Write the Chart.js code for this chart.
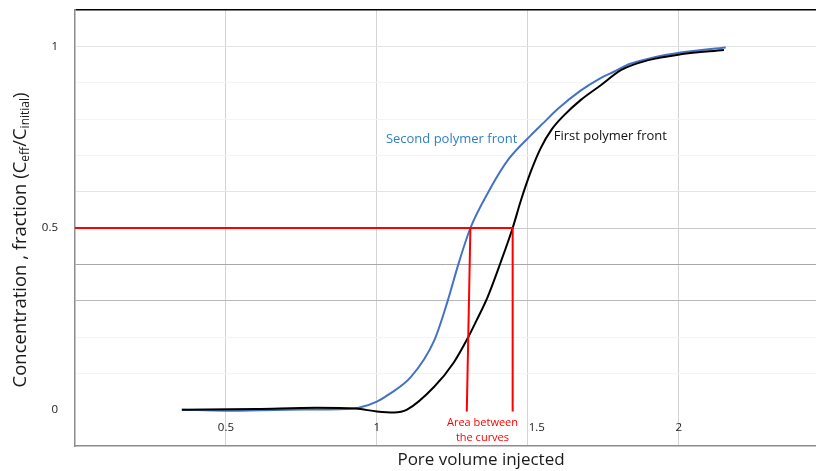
<!DOCTYPE html>
<html>
<head>
<meta charset="utf-8">
<script src="https://cdn.jsdelivr.net/npm/chart.js@4.4.1/dist/chart.umd.min.js"></script>
<style>
  html, body { margin: 0; padding: 0; background: #fff; }
  #wrap { width: 816px; height: 471px; }
</style>
</head>
<body>
<div id="wrap"><canvas id="c" width="816" height="471"></canvas></div>
<script>
// Pore volume injected (x) and concentration fraction (y) for each front
const secondFrontX = [0.354, 0.50, 0.70, 0.90, 0.94, 1.00, 1.036, 1.113, 1.19, 1.235, 1.27, 1.31, 1.37, 1.437, 1.51, 1.553, 1.60, 1.675, 1.74, 1.785, 1.84, 1.92, 2.007, 2.156];
const secondFrontY = [0.0, -0.003, 0.0, 0.002, 0.005, 0.022, 0.04, 0.09, 0.19, 0.30, 0.40, 0.50, 0.60, 0.69, 0.755, 0.79, 0.828, 0.878, 0.912, 0.93, 0.952, 0.97, 0.983, 0.997];

const firstFrontX = [0.354, 0.60, 0.80, 0.93, 1.00, 1.057, 1.10, 1.19, 1.255, 1.30, 1.33, 1.367, 1.41, 1.45, 1.477, 1.51, 1.543, 1.58, 1.62, 1.675, 1.742, 1.81, 1.90, 2.007, 2.15];
const firstFrontY = [0.0, 0.002, 0.005, 0.003, -0.005, -0.008, 0.0, 0.063, 0.13, 0.195, 0.245, 0.31, 0.405, 0.50, 0.575, 0.655, 0.72, 0.772, 0.81, 0.852, 0.893, 0.935, 0.962, 0.978, 0.99];

// Half-concentration guide lines
const halfGuideX = [0, 1.45, 1.45];
const halfGuideY = [0.5, 0.5, -0.005];
const secondDropX = [1.31, 1.298];
const secondDropY = [0.5, -0.005];

// Axis tick labels
const xTickValues = [0.5, 1, 1.5, 2];
const xTickLabels = ['0.5', '1', '1.5', '2'];
const yTickLabels = ['0', '0.5', '1'];

const toPoints = (xs, ys) => xs.map((x, i) => ({ x: x, y: ys[i] }));
const near = (a, b) => Math.abs(a - b) < 1e-6;

const FONT = "'Open Sans', 'DejaVu Sans', sans-serif";

// Axis titles (with subscripts), x tick labels and curve annotations
const textPlugin = {
  id: 'texts',
  afterDraw(chart) {
    const ctx = chart.ctx;
    const xs = chart.scales.x, ys = chart.scales.y;
    const area = chart.chartArea;
    ctx.save();

    // x tick labels sit just inside the plot, above the bottom axis
    ctx.fillStyle = '#1a1a1a';
    ctx.font = '11.5px ' + FONT;
    ctx.textAlign = 'center';
    ctx.textBaseline = 'middle';
    xTickValues.forEach((v, i) => {
      const shift = v === 1.5 ? 9 : 0;   // keep clear of the red note
      ctx.fillText(xTickLabels[i], xs.getPixelForValue(v) + shift, area.bottom - 18);
    });

    // x-axis title
    ctx.font = '17px ' + FONT;
    ctx.fillText('Pore volume injected', 481, 460);

    // y-axis title with subscripts
    const parts = [
      { t: 'Concentration , fraction (C', s: 18.5, dy: 0 },
      { t: 'eff', s: 12, dy: 5 },
      { t: '/C', s: 18.5, dy: 0 },
      { t: 'initial', s: 12, dy: 5 },
      { t: ')', s: 18.5, dy: 0 }
    ];
    let total = 0;
    parts.forEach(p => { ctx.font = p.s + 'px ' + FONT; p.w = ctx.measureText(p.t).width; total += p.w; });
    ctx.translate(21, 240);
    ctx.rotate(-Math.PI / 2);
    ctx.textAlign = 'left';
    let cx = -total / 2;
    parts.forEach(p => {
      ctx.font = p.s + 'px ' + FONT;
      ctx.fillText(p.t, cx, p.dy);
      cx += p.w;
    });
    ctx.setTransform(1, 0, 0, 1, 0, 0);

    // curve labels
    ctx.textAlign = 'left';
    ctx.font = '13px ' + FONT;
    ctx.fillStyle = '#2f7fc4';
    ctx.fillText('Second polymer front', xs.getPixelForValue(1.03), ys.getPixelForValue(0.745));
    ctx.fillStyle = '#111';
    ctx.fillText('First polymer front', xs.getPixelForValue(1.586), ys.getPixelForValue(0.752));

    // guide-line note
    ctx.textAlign = 'center';
    ctx.font = '11px ' + FONT;
    ctx.fillStyle = '#ff0000';
    const nx = xs.getPixelForValue(1.35);
    ctx.fillText('Area between', nx, 423);
    ctx.fillText('the curves', nx, 438);
    ctx.restore();
  }
};

new Chart(document.getElementById('c'), {
  type: 'scatter',
  data: {
    datasets: [
      {
        label: 'Half concentration',
        data: toPoints(halfGuideX, halfGuideY),
        showLine: true, borderColor: '#ff0000', borderWidth: 2, pointRadius: 0, tension: 0
      },
      {
        label: 'Second drop',
        data: toPoints(secondDropX, secondDropY),
        showLine: true, borderColor: '#ff0000', borderWidth: 2, pointRadius: 0, tension: 0
      },
      {
        label: 'First polymer front',
        data: toPoints(firstFrontX, firstFrontY),
        showLine: true, borderColor: '#000000', borderWidth: 2, pointRadius: 0,
        cubicInterpolationMode: 'monotone'
      },
      {
        label: 'Second polymer front',
        data: toPoints(secondFrontX, secondFrontY),
        showLine: true, borderColor: '#4472c4', borderWidth: 2, pointRadius: 0,
        cubicInterpolationMode: 'monotone'
      }
    ]
  },
  options: {
    responsive: false,
    animation: false,
    layout: { padding: { top: 10, right: 0, left: 0, bottom: 0 } },
    plugins: { legend: { display: false }, tooltip: { enabled: false } },
    scales: {
      x: {
        type: 'linear',
        min: 0, max: 2.455,
        afterFit(s) { s.height = 25; s.paddingLeft = 0; s.paddingRight = 0; },
        afterBuildTicks(s) { s.ticks = [0, 0.5, 1, 1.5, 2].map(v => ({ value: v })); },
        border: { display: true, color: '#8c8c8c', width: 1.5 },
        grid: {
          drawTicks: false,
          color: ctx => (ctx.tick && ctx.tick.value === 0) ? 'rgba(0,0,0,0)' : '#d4d4d4',
          lineWidth: 1
        },
        ticks: { display: false }
      },
      y: {
        type: 'linear',
        min: -0.1, max: 1.1,
        afterFit(s) { s.width = 75; s.paddingTop = 0; s.paddingBottom = 0; },
        border: { display: true, color: '#8c8c8c', width: 1.5 },
        grid: {
          drawTicks: false,
          color: ctx => {
            const v = ctx.tick ? ctx.tick.value : 0;
            if (near(v, 1.1)) return '#000000';
            if (near(v, 0.4)) return '#a8a8a8';
            if (near(v, 0.3)) return '#b8b8b8';
            if (near(v, 0.5)) return '#c8c8c8';
            if (near(v, 1.0) || near(v, 0.6)) return '#e4e4e4';
            if (near(v, -0.1) || near(v, 0)) return 'rgba(0,0,0,0)';
            return '#f4f4f4';
          },
          lineWidth: ctx => (ctx.tick && near(ctx.tick.value, 1.1)) ? 1.5 : 1
        },
        ticks: {
          stepSize: 0.1,
          padding: 17,
          color: '#1a1a1a',
          font: { family: FONT, size: 11.5 },
          callback: v => {
            const s = yTickLabels.find(l => near(parseFloat(l), v));
            return s === undefined ? '' : s;
          }
        }
      }
    }
  },
  plugins: [textPlugin]
});
</script>
</body>
</html>
